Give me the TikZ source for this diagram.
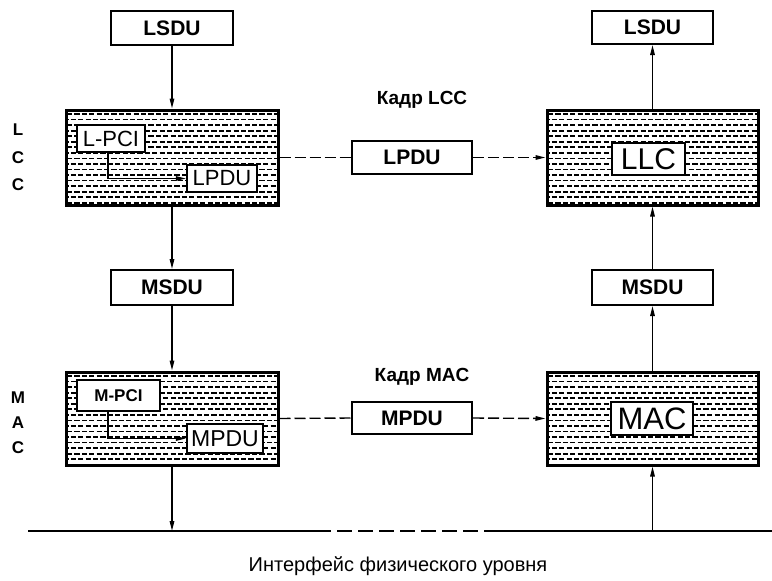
\documentclass[tikz,border=0pt]{standalone}
\usepackage{fontspec}
\setmainfont{Liberation Sans}
\usetikzlibrary{arrows.meta}
\newcommand\fs[1]{\fontsize{#1}{#1}\selectfont}
\newcommand\hatchrect[4]{%
  \begin{scope}
    \clip (#1,#2) rectangle (#3,#4);
    \foreach \k [evaluate=\k as \ph using {mod(\k,2)*3.6}] in {0,...,17}
      \draw[hatchline, dash phase=\ph pt] (#1,{#2+3+\k*5.55}) -- (#3,{#2+3+\k*5.55});
  \end{scope}}
\begin{document}
\begin{tikzpicture}[x=1pt,y=-1pt,
  hatchline/.style={line width=1.7pt, dash pattern=on 5.2pt off 2.2pt, black},
  bigbox/.style={draw, line width=3pt, minimum width=212pt, minimum height=95pt, inner sep=0pt},
  sdu/.style={draw, line width=2pt, minimum width=122pt, minimum height=34pt, inner sep=0pt, font=\fs{21}\bfseries},
  inbox/.style={draw, line width=2.2pt, fill=white, inner sep=0pt, font=\fs{22}},
  midbox/.style={draw, line width=2pt, minimum width=120pt, minimum height=33pt, inner sep=0pt, font=\fs{21}\bfseries},
  flow/.style={line width=1.3pt, -{Triangle[length=10pt,width=4.5pt]}},
  frame/.style={line width=1.4pt, dash pattern=on 11pt off 4pt, -{Triangle[length=10pt,width=4.5pt]}},
  side/.style={font=\fs{17}\bfseries},
  kadr/.style={font=\fs{19}\bfseries},
  bus/.style={line width=2.6pt}]
\useasboundingbox (0,0) rectangle (772,581);

% hatching of the four layer boxes
\hatchrect{67}{111}{277}{204}
\hatchrect{67}{373}{277}{464}
\hatchrect{548}{111}{757}{204}
\hatchrect{548}{373}{757}{464}

% left column
\node[sdu] (lsduL) at (172,28) {LSDU};
\node[bigbox] (llcL) at (172,157.5) {};
\node[inbox, minimum width=68pt, minimum height=27pt] (lpci) at (111,138.5) {L-PCI};
\node[inbox, minimum width=70pt, minimum height=27pt] (lpduI) at (222,178.5) {LPDU};
\node[sdu, minimum height=35pt] (msduL) at (172,287.5) {MSDU};
\node[bigbox, minimum height=93pt] (macL) at (172,418.5) {};
\node[inbox, minimum width=83pt, minimum height=31pt, font=\fs{17}\bfseries] (mpci) at (118.5,395.5) {M-PCI};
\node[inbox, minimum width=76pt, minimum height=29pt, font=\fs{23}] (mpduI) at (225,438.5) {MPDU};

% right column
\node[sdu, minimum width=121pt, minimum height=33pt] (lsduR) at (652.5,27.5) {LSDU};
\node[bigbox, minimum width=211pt] (llcR) at (652.5,157.5) {};
\node[inbox, minimum width=73pt, minimum height=32pt, font=\fs{30}] (llcI) at (648.5,159) {LLC};
\node[sdu, minimum width=121pt, minimum height=35pt] (msduR) at (652.5,287.5) {MSDU};
\node[bigbox, minimum width=211pt, minimum height=93pt] (macR) at (652.5,418.5) {};
\node[inbox, minimum width=82pt, minimum height=33pt, font=\fs{31}] (macI) at (652,418.5) {MAC};

% middle
\node[kadr] (k1) at (422,100) {Кадр LCC};
\node[midbox] (lpduM) at (412,157.5) {LPDU};
\node[kadr] (k2) at (422,377) {Кадр MAC};
\node[midbox, minimum height=32pt] (mpduM) at (412,418) {MPDU};

% side labels
\node[side] (sL) at (18,130) {L};
\node[side] (sC1) at (18,157.5) {C};
\node[side] (sC2) at (18,185) {C};
\node[side] (sM) at (18,398) {M};
\node[side] (sA) at (18,423) {A};
\node[side] (sC3) at (18,448) {C};

% physical interface line
\coordinate (busW) at (28,531);
\coordinate (busD1) at (316,531);
\coordinate (busD2) at (487,531);
\coordinate (busE) at (772,531);
\coordinate (busL) at (172,531);
\coordinate (busR) at (652.5,531);
\draw[bus] (busW) -- (busD1);
\draw[bus, dash pattern=on 15pt off 6pt] (busD1) -- (busD2);
\draw[bus] (busD2) -- (busE);
\node[font=\fs{20}] (phy) at (398,566) {Интерфейс физического уровня};

% vertical flows
\draw[flow] (lsduL) -- (llcL);
\draw[flow] (llcL) -- (msduL);
\draw[flow] (msduL) -- (macL);
\draw[flow] (macL) -- (busL);
\draw[flow] (busR) -- (macR);
\draw[flow] (macR) -- (msduR);
\draw[flow] (msduR) -- (llcR);
\draw[flow] (llcR) -- (lsduR);

% inner flows
\draw[flow, line width=1.1pt] (lpci.south -| 108,0) |- (lpduI.west);
\draw[flow, line width=1.1pt] (mpci.south -| 108,0) |- (mpduI.west);

% frame connectors
\draw[frame, -] (llcL.east) -- (lpduM.west);
\draw[frame] (lpduM.east) -- (llcR.west);
\draw[frame, -] (macL.east) -- (mpduM.west);
\draw[frame] (mpduM.east) -- (macR.west);
\end{tikzpicture}
\end{document}
